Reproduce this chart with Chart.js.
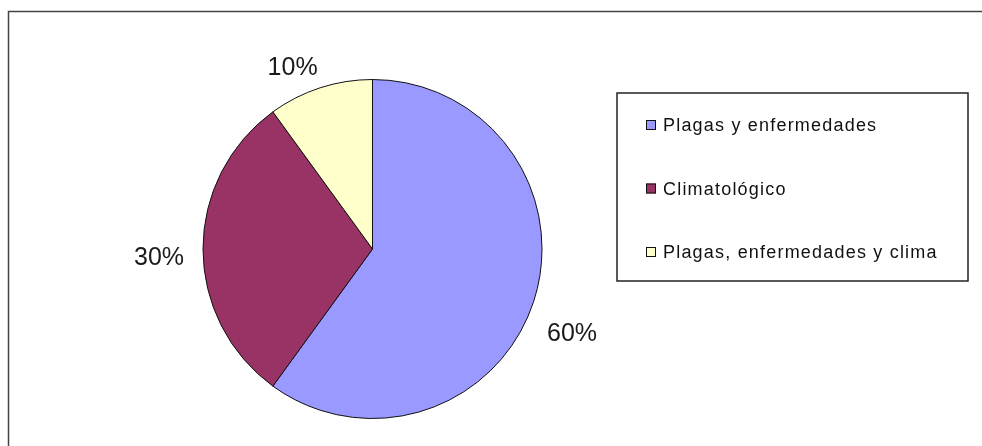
<!DOCTYPE html>
<html lang="es">
<head>
    <meta charset="UTF-8">
    <title>Causas</title>
    <script src="https://cdn.jsdelivr.net/npm/chart.js"></script>
    <style>
        html, body { margin: 0; padding: 0; background: #fff; }
        #wrap { width: 982px; height: 446px; }
    </style>
</head>
<body>
    <div id="wrap">
        <canvas id="grafico1"></canvas>
    </div>

    <script>
        const categorias = ['Plagas y enfermedades', 'Climatológico', 'Plagas, enfermedades y clima'];
        const valores = [60, 30, 10];
        const colores = ['#9999FF', '#993366', '#FFFFCC'];

        const fuente = '"Liberation Sans", Arial, sans-serif';

        // marco exterior (cortado a la derecha y abajo como en la imagen)
        const marco = {
            id: 'marco',
            beforeDraw(chart) {
                const c = chart.ctx;
                c.save();
                c.fillStyle = '#fff';
                c.fillRect(0, 0, chart.width, chart.height);
                c.strokeStyle = '#444';
                c.lineWidth = 1.5;
                c.strokeRect(8.5, 11.5, chart.width + 10, chart.height + 10);
                c.restore();
            }
        };

        // porcentajes fuera de cada porcion
        const etiquetas = {
            id: 'etiquetas',
            afterDatasetsDraw(chart, args, opts) {
                const c = chart.ctx;
                const meta = chart.getDatasetMeta(0);
                const total = valores.reduce((a, b) => a + b, 0);
                c.save();
                c.font = '25px ' + fuente;
                c.fillStyle = '#1a1a1a';
                c.textAlign = 'center';
                c.textBaseline = 'middle';
                meta.data.forEach((arc, i) => {
                    const p = arc.getProps(['x', 'y', 'startAngle', 'endAngle', 'outerRadius']);
                    const ang = (p.startAngle + p.endAngle) / 2;
                    const r = p.outerRadius + opts.distancia;
                    const aj = opts.ajuste[i] || [0, 0];
                    const txt = Math.round(valores[i] / total * 100) + '%';
                    c.fillText(txt, p.x + Math.cos(ang) * r + aj[0], p.y + Math.sin(ang) * r + aj[1]);
                });
                c.restore();
            }
        };

        // leyenda con recuadro a la derecha
        const leyenda = {
            id: 'leyenda',
            afterDraw(chart) {
                const c = chart.ctx;
                c.save();
                c.strokeStyle = '#222';
                c.lineWidth = 1.5;
                c.strokeRect(617, 93, 351, 188);
                c.font = '18px ' + fuente;
                c.letterSpacing = '1.2px';
                c.textBaseline = 'alphabetic';
                c.textAlign = 'left';
                const ys = [131, 194.5, 258];
                categorias.forEach((lab, i) => {
                    c.fillStyle = colores[i];
                    c.fillRect(646, ys[i] - 11, 10, 10);
                    c.strokeStyle = '#111';
                    c.lineWidth = 1;
                    c.strokeRect(646.5, ys[i] - 10.5, 9, 9);
                    c.fillStyle = '#111';
                    c.fillText(lab, 663, ys[i]);
                });
                c.restore();
            }
        };

        const ctx = document.getElementById('grafico1');

        let grafico1 = new Chart(ctx, {
            type: 'pie',
            data: {
                labels: categorias,
                datasets: [{
                    data: valores,
                    backgroundColor: colores,
                    borderColor: '#111',
                    borderWidth: 1
                }]
            },
            options: {
                responsive: true,
                maintainAspectRatio: false,
                animation: false,
                layout: {
                    padding: { left: 202, right: 439, top: 79, bottom: 27 }
                },
                plugins: {
                    legend: { display: false },
                    tooltip: { enabled: false },
                    etiquetas: {
                        distancia: 34,
                        ajuste: [[6, 22], [-10, 9], [-17, 13]]
                    }
                }
            },
            plugins: [marco, etiquetas, leyenda]
        });
    </script>
</body>
</html>
